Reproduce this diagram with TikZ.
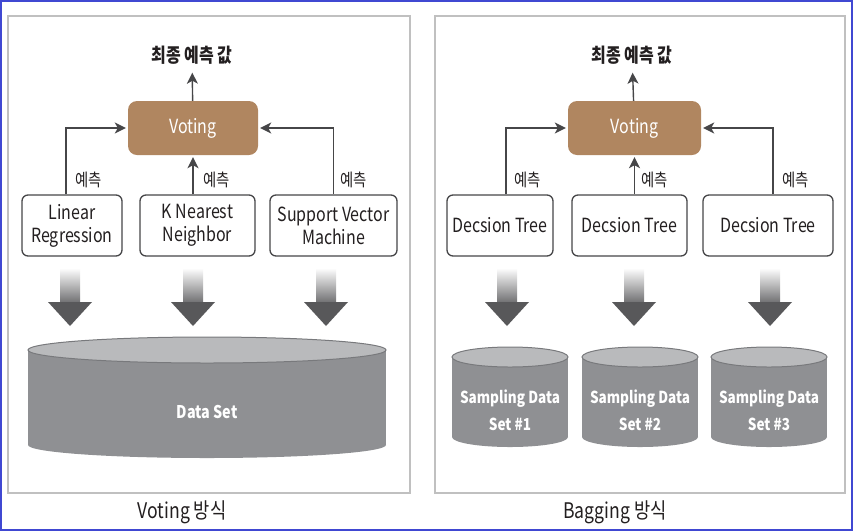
\documentclass[tikz,border=0pt]{standalone}
\usepackage{fontspec}
\setmainfont{Noto Sans CJK KR}[FakeStretch=0.82]
\usepackage{tikz}
\usetikzlibrary{arrows.meta}
\usetikzlibrary{positioning}
\tikzset{flow/.style = {-{Stealth[length=11pt,width=11pt,inset=3pt]},
                        line width=1.4pt, draw=mline},
         model/.style = {draw=mline, line width=1.3pt, rounded corners=6pt, fill=white,
                         minimum height=61pt, align=center, inner sep=2pt, text=mtext},
         vote/.style = {fill=mbrown, rounded corners=9pt, text=white, minimum height=54pt},
         guess/.style = {inner sep=0pt, text=mtext, font=\fontsize{17.5}{18}\selectfont},
         result/.style = {text=mtext, font=\bfseries\fontsize{19.5}{20}\selectfont},
         store/.style = {text=white, align=center, font=\bfseries\fontsize{16.5}{27}\selectfont},
         panel/.style = {draw=mframe, line width=1.5pt}}
\definecolor{mbrown}{RGB}{176,134,96}
\definecolor{mline}{RGB}{70,70,72}
\definecolor{mtext}{RGB}{35,31,32}
\definecolor{mframe}{RGB}{192,192,192}
\definecolor{mblue}{RGB}{64,72,210}
\definecolor{mshaft}{RGB}{110,110,112}
\definecolor{mhead}{RGB}{88,88,90}
\definecolor{mbody}{RGB}{143,144,147}
\definecolor{mtop}{RGB}{185,186,188}
\definecolor{medge}{RGB}{120,121,124}

\begin{document}
\begin{tikzpicture}[x=1pt, y=-1pt, font=\fontsize{19.5}{23}\selectfont]
    \useasboundingbox (0,0) rectangle (853,531);
    \draw [mblue, line width=2pt] (1,1) rectangle (851.5,529.5);
    \draw [panel] (8,16) rectangle (410,493);
    \draw [panel] (435,16) rectangle (845,493);

    % Voting
    \node [result] (lres) at (192,55) {최종 예측 값};
    \node [vote, minimum width=130pt] (lvote) at (193,128) {Voting};
    \node [model, minimum width=100pt] (lr) at (72,225.5) {Linear\\Regression};
    \node [model, minimum width=115pt] (knn) at (197.5,225.5) {K Nearest\\Neighbor};
    \node [model, minimum width=127pt] (svm) at (333.5,225.5) {Support Vector\\Machine};

    \draw [flow, shorten >=5pt] (lvote) -- (lres);
    \draw [flow, shorten >=2pt] ([xshift=-6pt]lr.north) |- (lvote.west)
        node [guess, pos=0.11, right=9pt] {예측};
    \draw [flow, shorten >=2pt] (lvote.south |- knn.north) -- (lvote.south)
        node [guess, pos=0.375, right=10pt] {예측};
    \draw [flow, shorten >=2pt] (svm.north) |- (lvote.east)
        node [guess, pos=0.11, right=6pt] {예측};

    % Bagging
    \node [result] (rres) at (632,55) {최종 예측 값};
    \node [vote, minimum width=133pt] (rvote) at (634.5,128) {Voting};
    \node [model, minimum width=106pt] (dt1) at (500,225.5) {Decsion Tree};
    \node [model, minimum width=115pt] (dt2) at (629.5,225.5) {Decsion Tree};
    \node [model, minimum width=130pt] (dt3) at (768,225.5) {Decsion Tree};

    \draw [flow, shorten >=5pt] (rvote) -- (rres);
    \draw [flow, shorten >=2pt] ([xshift=6pt]dt1.north) |- (rvote.west)
        node [guess, pos=0.11, right=8pt] {예측};
    \draw [flow, shorten >=2pt] (rvote.south |- dt2.north) -- (rvote.south)
        node [guess, pos=0.375, right=6pt] {예측};
    \draw [flow, shorten >=2pt] ([xshift=5pt]dt3.north) |- (rvote.east)
        node [guess, pos=0.11, right=9pt] {예측};

    % big arrows
    \foreach \x in {70,193,326,507,634,770} {
      \shade [top color=white, bottom color=mshaft] (\x-10,268) rectangle (\x+10,303);
      \fill [mhead] (\x-22,302) -- (\x+22,302) -- (\x,326) -- cycle;
    }

    % data sets
    \fill [mbody] (207,445) ellipse [x radius=179, y radius=13];
    \fill [mbody] (28,350) rectangle (386,445);
    \filldraw [fill=mtop, draw=medge, line width=1pt] (207,350) ellipse [x radius=179, y radius=13];
    \node [store, font=\bfseries\fontsize{17.5}{20}\selectfont] (data) at (207,412) {Data Set};
    \foreach \x/\n in {510/1, 640/2, 769/3} {
      \fill [mbody] (\x,437) ellipse [x radius=58, y radius=10];
      \fill [mbody] (\x-58,357) rectangle (\x+58,437);
      \filldraw [fill=mtop, draw=medge, line width=1pt] (\x,357) ellipse [x radius=58, y radius=10];
      \node [store] (set\n) at (\x,410) {Sampling Data\\Set \#\n};
    }

    \node [text=mtext, font=\fontsize{21.5}{24}\selectfont] (lcap) at (182,512) {Voting 방식};
    \node [text=mtext, font=\fontsize{21.5}{24}\selectfont] (rcap) at (615,512) {Bagging 방식};
\end{tikzpicture}
\end{document}
